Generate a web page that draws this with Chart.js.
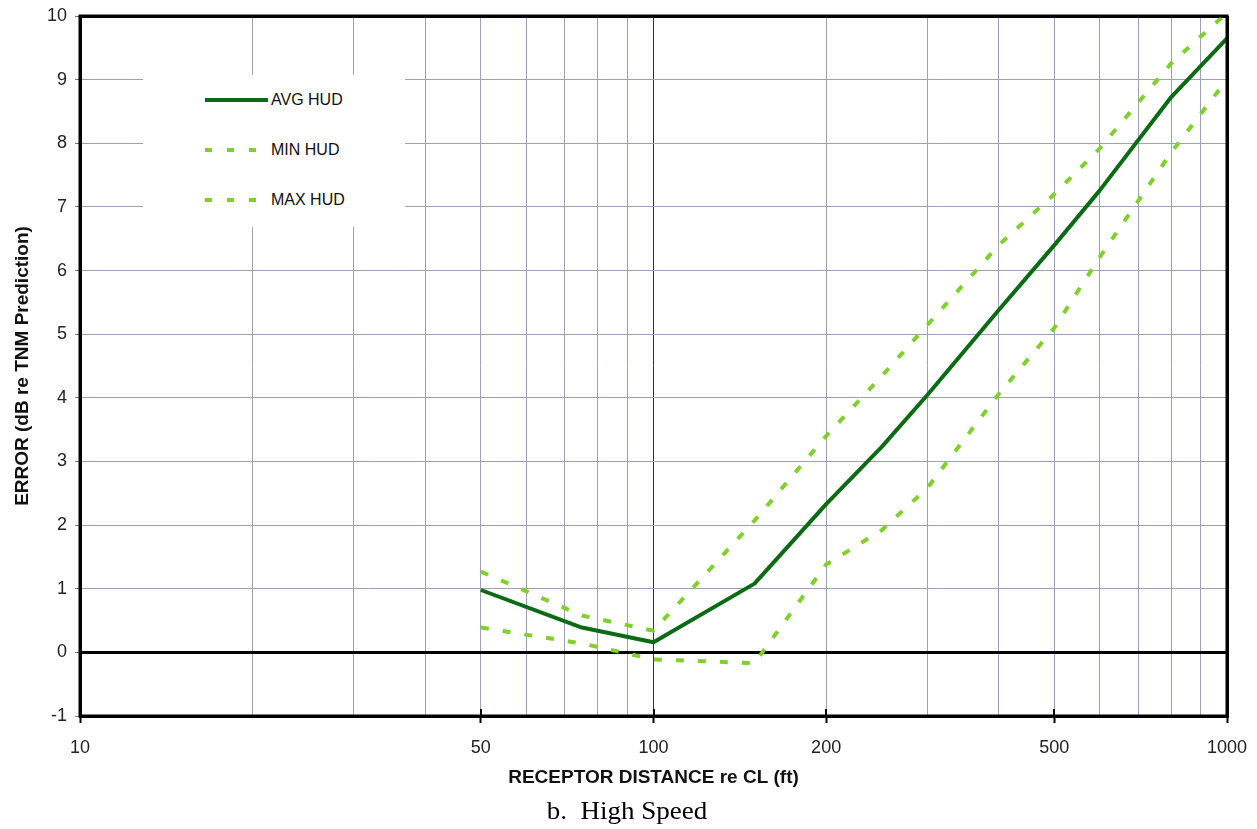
<!DOCTYPE html>
<html>
<head>
<meta charset="utf-8">
<script src="https://cdn.jsdelivr.net/npm/chart.js@4.4.0/dist/chart.umd.min.js"></script>
<style>
  html, body { margin: 0; padding: 0; background: #fff; }
  #wrap { position: relative; width: 1257px; height: 829px; overflow: hidden; }
  #c { position: absolute; left: 0; top: 0; }
  #legend { position: absolute; left: 143px; top: 75px; width: 262px; height: 152px; background: #fff; }
  .item { position: absolute; left: 0; width: 262px; height: 20px; }
  .item svg { position: absolute; left: 62px; top: 5px; }
  .item span { position: absolute; left: 128px; top: 0; line-height: 20px; font-family: "Liberation Sans", Arial, sans-serif; font-size: 16px; color: #111; white-space: nowrap; }
  #caption { position: absolute; left: 477px; width: 300px; top: 796px; line-height: 30px; text-align: center;
             font-family: "Liberation Serif", "Times New Roman", serif; font-size: 25px; color: #000; white-space: pre; transform: scaleX(1.08); }
</style>
</head>
<body>
<div id="wrap">
  <canvas id="c" width="1257" height="829"></canvas>
  <div id="legend"></div>
  <div id="caption">b.  High Speed</div>
</div>
<script>
// ---- data ----
const DISTANCES = [50, 75, 100, 150, 200, 250, 300, 400, 500, 600, 800, 1000];
const AVG_HUD   = [0.98, 0.39, 0.16, 1.08, 2.33, 3.23, 4.04, 5.38, 6.40, 7.26, 8.73, 9.65];
const MIN_HUD   = [0.39, 0.14, -0.11, -0.17, 1.38, 1.92, 2.58, 4.06, 5.10, 6.21, 7.86, 9.00];
const MAX_HUD   = [1.27, 0.58, 0.34, 2.07, 3.40, 4.34, 5.14, 6.40, 7.20, 7.92, 9.26, 10.05];
const X_GRID    = [10, 20, 30, 40, 50, 60, 70, 80, 90, 100, 200, 300, 400, 500, 600, 700, 800, 900, 1000];
const X_LABELS  = [10, 50, 100, 200, 500, 1000];
const Y_MIN = -1, Y_MAX = 10;
const SERIES_LABELS = ['AVG HUD', 'MIN HUD', 'MAX HUD'];
const X_TITLE = 'RECEPTOR DISTANCE re CL (ft)';
const Y_TITLE = 'ERROR (dB re TNM Prediction)';

const DARK = '#0b6a14';
const LIGHT = '#7fd02c';
const GRID = '#9aa2ba';

function pts(vals) { return DISTANCES.map((d, i) => ({ x: d, y: vals[i] })); }

const datasets = [
  { label: SERIES_LABELS[0], data: pts(AVG_HUD), borderColor: DARK, borderWidth: 4, borderDash: [] },
  { label: SERIES_LABELS[1], data: pts(MIN_HUD), borderColor: LIGHT, borderWidth: 4, borderDash: [8, 14] },
  { label: SERIES_LABELS[2], data: pts(MAX_HUD), borderColor: LIGHT, borderWidth: 4, borderDash: [8, 14] }
].map(d => Object.assign(d, { fill: false, pointRadius: 0, tension: 0, borderCapStyle: 'butt', borderJoinStyle: 'round' }));

const framePlugin = {
  id: 'frame',
  afterDatasetsDraw(chart) {
    const { ctx, chartArea: a, scales } = chart;
    ctx.save();
    ctx.strokeStyle = '#000';
    ctx.lineWidth = 2;
    X_LABELS.forEach(v => {
      const px = Math.round(scales.x.getPixelForValue(v));
      ctx.beginPath(); ctx.moveTo(px, a.bottom - 7); ctx.lineTo(px, a.bottom); ctx.stroke();
    });
    ctx.lineWidth = 3;
    ctx.strokeRect(a.left, a.top, a.right - a.left, a.bottom - a.top);
    ctx.restore();
  }
};

const chart = new Chart(document.getElementById('c'), {
  type: 'line',
  data: { datasets },
  plugins: [framePlugin],
  options: {
    responsive: false,
    animation: false,
    devicePixelRatio: 1,
    parsing: true,
    layout: { padding: { top: 16, right: 30, left: 0, bottom: 0 } },
    plugins: { legend: { display: false }, tooltip: { enabled: false } },
    scales: {
      x: {
        type: 'logarithmic',
        min: 10, max: 1000,
        afterBuildTicks: s => { s.ticks = X_GRID.map(v => ({ value: v })); },
        afterFit: s => { s.height = 113; s.paddingLeft = 0; s.paddingRight = 0; },
        ticks: {
          autoSkip: false, maxRotation: 0, minRotation: 0,
          padding: 14,
          color: '#222',
          font: { family: 'Liberation Sans', size: 18 },
          callback: v => X_LABELS.includes(v) ? String(v) : ''
        },
        grid: {
          color: c => (c.tick && (c.tick.value === 10 || c.tick.value === 1000)) ? '#000' : (c.tick && c.tick.value === 100 ? '#333' : GRID),
          lineWidth: c => (c.tick && (c.tick.value === 10 || c.tick.value === 1000)) ? 3 : 1,
          tickColor: c => (c.tick && X_LABELS.includes(c.tick.value)) ? '#000' : 'rgba(0,0,0,0)',
          tickLength: 7,
          tickWidth: 2
        },
        border: { display: true, color: '#000', width: 3 },
        title: {
          display: true, text: X_TITLE, color: '#111',
          font: { family: 'Liberation Sans', size: 19, weight: 'bold' },
          padding: { top: 40, bottom: 40 }
        }
      },
      y: {
        type: 'linear',
        min: Y_MIN, max: Y_MAX,
        afterFit: s => { s.width = 80; s.paddingTop = 0; s.paddingBottom = 0; },
        ticks: {
          stepSize: 1, padding: 8, color: '#222',
          font: { family: 'Liberation Sans', size: 18 }
        },
        grid: {
          color: c => (c.tick && (c.tick.value === 0 || c.tick.value === Y_MAX || c.tick.value === Y_MIN)) ? '#000' : GRID,
          lineWidth: c => (c.tick && (c.tick.value === 0 || c.tick.value === Y_MAX || c.tick.value === Y_MIN)) ? 3 : 1,
          tickColor: '#777',
          tickLength: 5,
          tickWidth: 1
        },
        border: { display: true, color: '#000', width: 3 },
        title: {
          display: true, text: Y_TITLE, color: '#111',
          font: { family: 'Liberation Sans', size: 19, weight: 'bold' },
          padding: { top: 11, bottom: 11 }
        }
      }
    }
  }
});

// HTML legend built from the datasets
const legendTops = [90, 140, 190];
const legend = document.getElementById('legend');
chart.data.datasets.forEach((ds, i) => {
  const item = document.createElement('div');
  item.className = 'item';
  item.style.top = (legendTops[i] - 75) + 'px';
  const dash = ds.borderDash && ds.borderDash.length ? 'stroke-dasharray="7 15"' : '';
  const len = dash ? 53 : 63;
  item.innerHTML = '<svg width="64" height="10"><line x1="0" y1="5" x2="' + len + '" y2="5" stroke="' + ds.borderColor +
    '" stroke-width="4" ' + dash + '/></svg><span></span>';
  item.querySelector('span').textContent = ds.label;
  legend.appendChild(item);
});
</script>
</body>
</html>
